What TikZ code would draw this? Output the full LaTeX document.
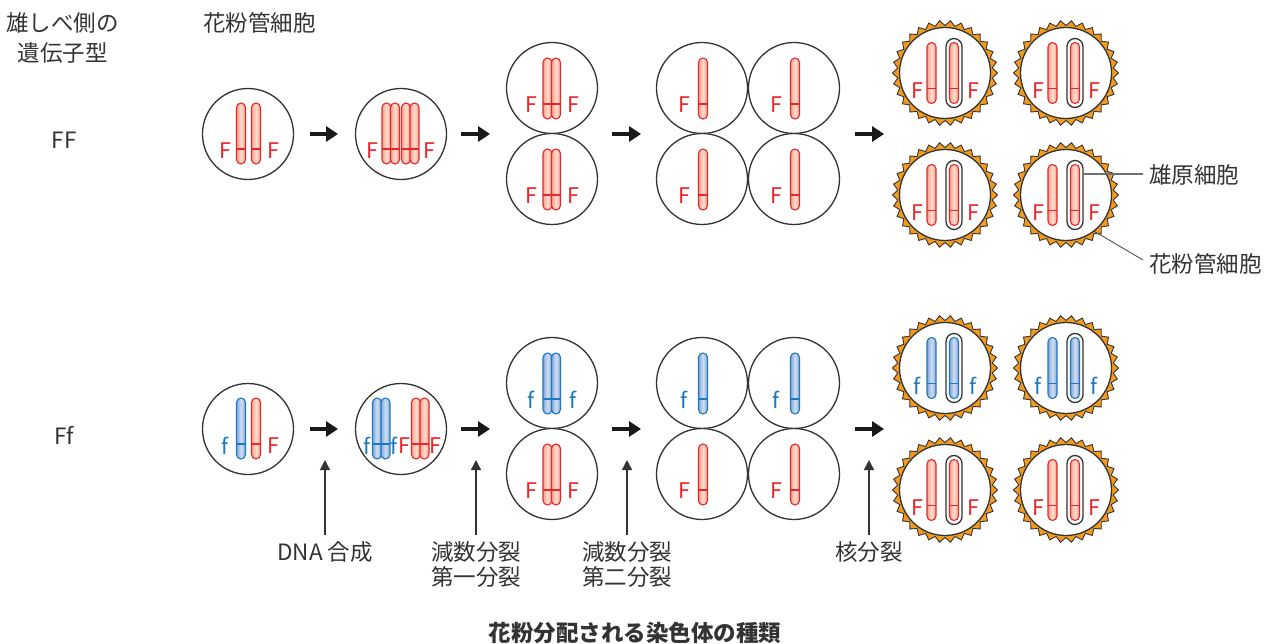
\documentclass[tikz,border=0pt]{standalone}
\usepackage{fontspec}
\setmainfont{Noto Sans CJK JP}
\usetikzlibrary{arrows.meta}

\definecolor{ink}{HTML}{333333}
\definecolor{rline}{HTML}{E8262C}
\definecolor{rfill}{HTML}{F6A38C}
\definecolor{rlight}{HTML}{FDDCCF}
\definecolor{bline}{HTML}{1C78C0}
\definecolor{bfill}{HTML}{86A9DA}
\definecolor{blight}{HTML}{CFDDF1}
\definecolor{pollen}{HTML}{F39A1F}

\tikzset{
  cell/.style={circle, draw=ink, line width=1.3pt, fill=white, minimum size=91pt, inner sep=0pt},
  rchr/.style={draw=rline, line width=1.1pt, left color=rfill, right color=rfill, middle color=rlight},
  bchr/.style={draw=bline, line width=1.1pt, left color=bfill, right color=bfill, middle color=blight},
  capsule/.style={draw=ink, line width=1.3pt, fill=white, rounded corners=8pt},
  ring/.style={draw=ink, line width=0.9pt, fill=pollen, line join=miter},
  gene/.style={font=\fontsize{21.5}{21.5}\selectfont, inner sep=0pt},
  rgene/.style={gene, text=rline},
  bgene/.style={gene, text=bline},
  lbl/.style={font=\fontsize{22.5}{25}\selectfont, text=ink, align=center, inner sep=0pt},
  flowarrow/.style={-{Triangle[length=12pt,width=15pt]}, line width=4.5pt, draw=black!90},
  markarrow/.style={-{Triangle[length=10pt,width=10pt]}, line width=1.3pt, draw=ink},
  leader/.style={draw=ink!70, line width=1.1pt}
}

% one chromatid: centre x, top y, colour key (r or b)
\newcommand\strand[3]{%
  \draw[#3chr, rounded corners=4.5pt] ({#1-4.5},{#2}) rectangle ({#1+4.5},{#2+61});
  \draw[draw=#3line, line width=1.1pt] ({#1-4.5},{#2+46}) -- ({#1+4.5},{#2+46});
}

% pollen grain wall with its toothed coat: name, centre x, centre y
\newcommand\grain[3]{%
  \begin{scope}[shift={(#2,#3)}]
    \draw[ring] (0:52.5) \foreach \k in {1,...,59}{ -- ({\k*6}:{47.5+5*mod(\k+1,2)}) } -- cycle;
    \node[cell] (#1) at (0,0) {};
  \end{scope}}

% contents of a pollen grain: name, centre x, centre y, colour key, gene letter
\newcommand\graincontent[5]{%
  \strand{#2-13.5}{#3-30.5}{#4}
  \draw[capsule] ({#2+1},{#3-34.5}) rectangle ({#2+17},{#3+34.5});
  \strand{#2+9}{#3-30.5}{#4}
  \node[#4gene] (#1l) at ({#2-28},{#3+17.5}) {#5};
  \node[#4gene] (#1r) at ({#2+28},{#3+17.5}) {#5};
}

\begin{document}
\begin{tikzpicture}[x=1pt, y=-1pt]
\useasboundingbox (0,0) rectangle (1274,644);

% headings
\node[lbl, font=\fontsize{22.5}{30}\selectfont] (hgeno) at (62.5,38) {雄しべ側の\\遺伝子型};
\node[lbl] (hcell) at (259.5,23) {花粉管細胞};
\node[lbl] (gFF) at (64,140) {FF};
\node[lbl] (gFf) at (64,435) {Ff};

% ---------- FF row ----------
\node[cell] (a1) at (248,134) {};
\strand{241}{103}{r}\strand{256}{103}{r}
\node[rgene] (a1l) at (225,151) {F};
\node[rgene] (a1r) at (273,151) {F};

\node[cell] (a2) at (401,134) {};
\strand{386.5}{103}{r}\strand{395}{103}{r}
\strand{406}{103}{r}\strand{414.5}{103}{r}
\node[rgene] (a2l) at (372,151) {F};
\node[rgene] (a2r) at (429,151) {F};

\node[cell] (a3u) at (552,88) {};
\node[cell] (a3d) at (552,179) {};
\strand{547.5}{58}{r}\strand{556}{58}{r}
\strand{547.5}{149}{r}\strand{556}{149}{r}
\node[rgene] (a3ul) at (531,105) {F};
\node[rgene] (a3ur) at (573,105) {F};
\node[rgene] (a3dl) at (531,196) {F};
\node[rgene] (a3dr) at (573,196) {F};

\node[cell] (a4a) at (702,88) {};
\node[cell] (a4b) at (794,88) {};
\node[cell] (a4c) at (702,179) {};
\node[cell] (a4d) at (794,179) {};
\strand{703}{58}{r}\strand{795}{58}{r}
\strand{703}{149}{r}\strand{795}{149}{r}
\node[rgene] (a4al) at (684,105) {F};
\node[rgene] (a4bl) at (776,105) {F};
\node[rgene] (a4cl) at (684,196) {F};
\node[rgene] (a4dl) at (776,196) {F};

\grain{g1}{945}{73}\grain{g2}{1066}{73}
\grain{g3}{945}{195}\grain{g4}{1066}{195}
\graincontent{g1}{945}{73}{r}{F}
\graincontent{g2}{1066}{73}{r}{F}
\graincontent{g3}{945}{195}{r}{F}
\graincontent{g4}{1066}{195}{r}{F}

% ---------- Ff row ----------
\node[cell] (b1) at (248,429) {};
\strand{241}{398}{b}\strand{256}{398}{r}
\node[bgene] (b1l) at (225,446) {f};
\node[rgene] (b1r) at (273,446) {F};

\node[cell] (b2) at (401,429) {};
\strand{377}{398}{b}\strand{385.5}{398}{b}
\strand{416}{398}{r}\strand{424.5}{398}{r}
\node[bgene] (b2a) at (367,446) {f};
\node[bgene] (b2b) at (394,446) {f};
\node[rgene] (b2c) at (404,446) {F};
\node[rgene] (b2d) at (435,446) {F};

\node[cell] (b3u) at (552,383) {};
\node[cell] (b3d) at (552,474) {};
\strand{547.5}{353}{b}\strand{556}{353}{b}
\strand{547.5}{444}{r}\strand{556}{444}{r}
\node[bgene] (b3ul) at (531,400) {f};
\node[bgene] (b3ur) at (573,400) {f};
\node[rgene] (b3dl) at (531,491) {F};
\node[rgene] (b3dr) at (573,491) {F};

\node[cell] (b4a) at (702,383) {};
\node[cell] (b4b) at (794,383) {};
\node[cell] (b4c) at (702,474) {};
\node[cell] (b4d) at (794,474) {};
\strand{703}{353}{b}\strand{795}{353}{b}
\strand{703}{444}{r}\strand{795}{444}{r}
\node[bgene] (b4al) at (684,400) {f};
\node[bgene] (b4bl) at (776,400) {f};
\node[rgene] (b4cl) at (684,491) {F};
\node[rgene] (b4dl) at (776,491) {F};

\grain{h1}{945}{368}\grain{h2}{1066}{368}
\grain{h3}{945}{490}\grain{h4}{1066}{490}
\graincontent{h1}{945}{368}{b}{f}
\graincontent{h2}{1066}{368}{b}{f}
\graincontent{h3}{945}{490}{r}{F}
\graincontent{h4}{1066}{490}{r}{F}

% ---------- step arrows ----------
\foreach \n/\xa/\xb in {1/310/338, 2/461/490, 3/612/641, 4/855/884}{
  \coordinate (sa\n) at (\xa,134); \coordinate (ea\n) at (\xb,134);
  \coordinate (sb\n) at (\xa,429); \coordinate (eb\n) at (\xb,429);
  \draw[flowarrow] (sa\n) -- (ea\n);
  \draw[flowarrow] (sb\n) -- (eb\n);
}

% ---------- stage labels ----------
\node[lbl] (s1) at (325,552) {DNA 合成};
\node[lbl] (s2) at (476,564.5) {減数分裂\\第一分裂};
\node[lbl] (s3) at (627,564.5) {減数分裂\\第二分裂};
\node[lbl] (s4) at (869,552) {核分裂};
\foreach \n/\x in {1/325, 2/476, 3/627, 4/869}{
  \coordinate (m\n) at (\x,535); \coordinate (t\n) at (\x,460);
  \draw[markarrow] (m\n) -- (t\n);
}

% ---------- callouts ----------
\node[lbl, anchor=west] (lgen) at (1149,175) {雄原細胞};
\node[lbl, anchor=west] (ltube) at (1149,264) {花粉管細胞};
\coordinate (capR) at (1083,174);
\coordinate (lgenend) at (1143,174);
\coordinate (ltubeend) at (1143,260);
\draw[leader] (capR) -- (lgenend);
\draw[draw=ink!85, line width=0.9pt] (g4.-52) -- (ltubeend);

% ---------- title ----------
\node[lbl, font=\fontsize{22.5}{25}\selectfont\bfseries] (title) at (635,633) {花粉分配される染色体の種類};
\end{tikzpicture}
\end{document}
